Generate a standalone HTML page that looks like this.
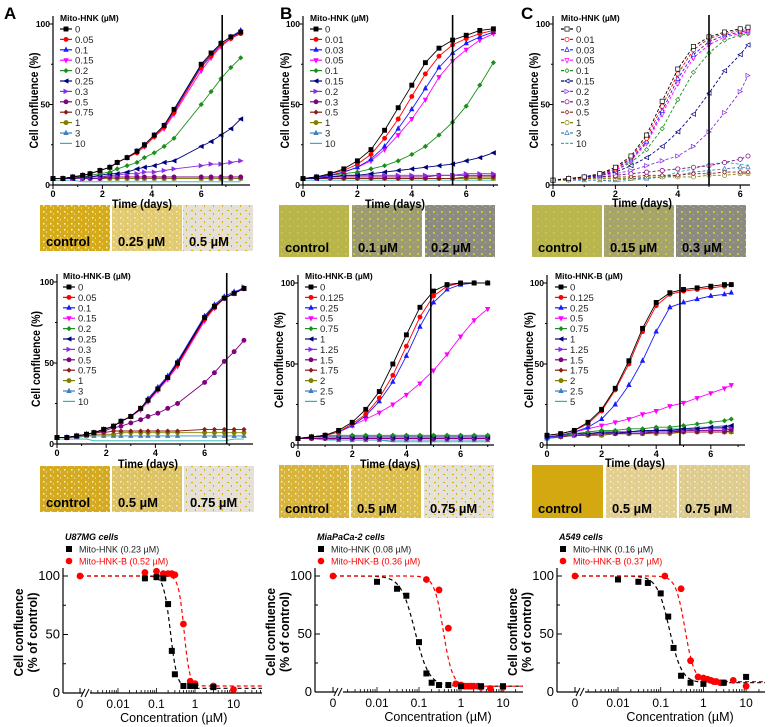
<!DOCTYPE html>
<html><head><meta charset="utf-8">
<style>
html,body{margin:0;padding:0;background:#fff;}
svg{display:block;font-family:"Liberation Sans",Arial,sans-serif;}
</style></head>
<body>
<svg id="fig" width="771" height="727" viewBox="0 0 771 727" xmlns="http://www.w3.org/2000/svg">
<defs>
<pattern id="spkW" width="7" height="6" patternUnits="userSpaceOnUse"><rect x="1" y="1" width="1.5" height="1.5" fill="#f4f0e0"/><rect x="4" y="3.5" width="1" height="1" fill="#f8f4ea"/></pattern>
<pattern id="spkG" width="9" height="8" patternUnits="userSpaceOnUse"><rect x="2" y="2" width="2" height="1" fill="#d9ad18"/><rect x="6" y="5" width="1" height="2" fill="#d9ad18"/></pattern>
<pattern id="spkY" width="8" height="7" patternUnits="userSpaceOnUse"><rect x="1" y="1" width="2" height="2" fill="#c8c640"/><rect x="5" y="4" width="1" height="1" fill="#c8c640"/></pattern>
</defs>
</svg>
<script>
// ---------- time-course data ----------
const timesA=[0,0.4,0.8,1.2,1.5,1.9,2.3,2.6,3,3.4,3.7,4.1,4.5,4.9,6,6.4,6.8,7.2,7.6];
const timesB=[0,0.5,1,1.5,2,2.5,3,3.5,4,4.5,5,5.5,6,6.5,7];
const timesCt=[0,0.5,1,1.5,2,2.5,3,3.5,4,4.5,5,5.5,6,6.25];
const timesCm=[0,0.5,1,1.5,2,2.5,3,3.5,4,4.5,5,5.5,6,6.5,6.75];

const labelsATop=['0','0.05','0.1','0.15','0.2','0.25','0.3','0.5','0.75','1','3','10'];
const valsATop=[
[4,4,5,6,7,9,11,14,17,21,25,31,37,47,75,82,88,92,95],
[4,4,5,6,7,9,11,14,17,20,24,30,36,45,73,80,87,91,94],
[4,4,5,6,7,9,11,14,17,21,25,31,37,46,74,81,88,92,96],
[4,4,5,6,7,9,11,14,17,20,24,30,35,44,71,79,86,91,95],
[4,4,5,5,6,7,8,10,12,14,17,20,24,29,50,58,66,73,79],
[4,4,4,5,5,6,7,7,8,10,11,12,14,15,24,27,31,35,41],
[4,4,4,4,5,5,6,6,7,7,8,8,9,10,12,13,13,14,15],
[4,4,4,4,4,4,5,5,5,5,5,5,5,5,5,5,5,5,5],
[4,4,4,4,5,5,5,5,5,5,5,5,5,5,5,5,5,5,5],
[4,4,4,4,4,4,4,4,4,4,4,4,4,4,4,4,4,4,4],
[4,4,4,4,4,4,4,4,4,4,4,4,4,4,4,4,4,4,4],
[3,3,3,2,2,2,2,2,2,2,2,2,2,2,2,2,2,2,2]];

const labelsAMid=['0','0.05','0.1','0.15','0.2','0.25','0.3','0.5','0.75','1','3','10'];
const valsAMid=[
[4,4,5,6,7,9,11,14,17,22,27,34,41,50,78,85,90,93,96],
[4,4,5,6,7,9,11,14,17,22,27,34,41,49,77,84,90,93,96],
[4,4,5,6,7,9,11,14,17,22,28,35,42,51,79,86,91,94,96],
[4,4,5,6,7,9,11,14,17,21,26,33,40,48,76,84,90,93,96],
[4,4,5,6,7,9,11,14,17,22,27,34,41,49,77,85,90,93,96],
[4,4,5,6,7,9,11,14,17,22,27,34,41,50,78,85,90,93,96],
[4,4,5,6,7,9,11,14,17,22,27,34,41,50,78,85,90,93,97],
[4,4,5,6,7,8,10,11,13,15,17,19,22,25,38,44,51,57,64],
[4,4,5,6,7,7,8,8,8,8,8,8,8,8,9,9,9,9,9],
[4,4,5,5,6,6,6,7,7,7,7,7,7,7,7,7,7,7,7],
[4,4,4,5,5,5,5,5,5,5,5,5,5,5,5,5,5,5,5],
[3,3,3,3,2,2,2,2,2,2,2,2,2,2,2,2,2,3,3]];

const labelsBTop=['0','0.01','0.03','0.05','0.1','0.15','0.2','0.3','0.5','1','3','10'];
const valsBTop=[
[4,5,7,10,15,22,34,48,62,76,85,90,93,96,97],
[4,5,7,9,13,19,29,41,55,69,80,87,91,94,96],
[4,5,6,8,11,16,24,35,47,60,73,82,88,92,95],
[4,5,6,8,11,15,22,31,41,53,67,77,84,90,94],
[4,5,6,7,8,10,12,15,19,24,31,39,49,62,76],
[4,4,5,6,6,7,8,9,10,11,12,13,15,17,20],
[4,5,5,6,6,6,6,6,6,6,6,6,7,7,7],
[4,4,5,5,5,5,5,5,5,5,6,6,6,6,6],
[4,4,4,4,4,4,4,4,4,4,4,4,5,5,5],
[4,4,4,4,4,4,4,4,4,4,4,4,4,4,4],
[4,4,4,4,4,4,4,4,4,4,4,4,4,4,4],
[3,3,3,3,3,3,3,3,3,3,3,3,3,3,3]];

const labelsBMid=['0','0.125','0.25','0.5','0.75','1','1.25','1.5','1.75','2','2.5','5'];
const valsBMid=[
[4,5,6,9,14,22,33,50,68,85,95,99,100,100,100],
[4,5,6,8,13,19,29,43,61,79,92,98,100,100,100],
[4,5,6,8,12,18,27,39,55,73,88,96,99,100,100],
[4,5,6,8,12,16,20,25,31,38,46,56,67,77,84],
[4,5,6,6,6,6,6,6,6,6,6,6,6,6,6],
[4,5,5,5,5,5,5,5,5,5,5,5,5,5,5],
[4,5,5,5,5,5,5,5,5,5,5,5,5,5,5],
[4,4,4,4,4,4,4,4,4,4,4,4,4,4,4],
[4,4,4,4,4,4,4,4,4,4,4,4,4,4,4],
[4,4,4,4,4,4,4,4,4,4,4,4,4,4,4],
[4,4,4,3,3,3,3,3,3,3,3,3,3,3,3],
[4,4,3,3,3,3,3,2,2,2,2,2,2,2,2]];

const labelsCTop=['0','0.01','0.03','0.05','0.1','0.15','0.2','0.3','0.5','1','3','10'];
const valsCTop=[
[3,4,5,7,11,18,31,52,72,86,92,95,97,98],
[3,4,5,7,10,17,29,49,69,84,91,94,96,97],
[3,4,5,6,10,16,27,46,66,81,89,93,95,96],
[3,4,5,6,9,15,26,44,63,79,87,92,94,95],
[3,4,5,6,9,14,22,35,53,70,82,90,93,94],
[3,4,5,6,8,12,17,24,33,44,57,71,81,87],
[3,4,5,6,7,9,12,15,18,24,33,45,58,68],
[3,4,5,5,6,7,8,9,10,11,12,14,16,18],
[3,4,4,5,5,5,6,6,6,7,7,8,8,8],
[3,3,4,4,4,4,5,5,5,5,6,6,7,7],
[3,3,3,3,3,4,4,5,6,8,9,10,11,11],
[3,3,3,3,2,3,4,5,8,10,13,14,13,12]];

const labelsCMid=['0','0.125','0.25','0.5','0.75','1','1.25','1.5','1.75','2','2.5','5'];
const valsCMid=[
[6,7,9,14,22,35,52,72,88,94,96,97,98,99,99],
[6,7,9,13,21,34,50,70,86,93,95,96,97,98,99],
[5,6,8,11,16,25,37,52,70,85,88,90,92,93,94],
[5,6,8,10,12,14,16,19,21,24,26,29,32,35,37],
[5,6,7,8,9,9,10,10,11,11,12,13,14,15,16],
[5,6,7,7,8,8,8,9,9,9,10,10,11,11,12],
[5,6,6,7,7,8,8,8,9,9,9,10,10,10,11],
[5,6,6,7,7,7,8,8,8,8,9,9,9,9,10],
[5,5,6,6,7,7,7,7,8,8,8,8,8,8,9],
[5,5,6,6,6,7,7,7,7,7,8,8,8,8,8],
[4,5,6,6,6,7,7,7,8,8,8,8,8,8,8],
[4,5,6,6,7,8,8,9,9,10,10,11,11,12,12]];

// ---------- dose-response data ----------
const concAK=[0.05,0.1,0.15,0.2,0.25,0.3,0.5,0.75,1,3];
const valsAK=[98,99,98,76,36,16,6,6,6,5];
const concAR=[0,0.05,0.1,0.15,0.2,0.25,0.3,0.5,0.75,1,3,10];
const valsAR=[100,103,104,102,102,102,101,59,10,8,6,3];
const fitAK=[100,4,0.23,5];
const fitAR=[100,6,0.52,6];

const concBK=[0.01,0.03,0.05,0.1,0.15,0.2,0.3,0.5,1,3,10];
const valsBK=[95,89,83,43,16,8,6,6,5,5,5];
const concBR=[0,0.15,0.3,0.5,0.75,1,1.25,1.5,1.75,2,2.5,3,5,10];
const valsBR=[100,97,88,55,7,6,5,5,5,5,5,4,3,4];
const fitBK=[100,5,0.08,2.6];
const fitBR=[100,5,0.38,4];

const concCK=[0.01,0.03,0.05,0.1,0.15,0.2,0.3,0.5,1,3,10];
const valsCK=[97,95,94,85,65,38,14,8,7,8,13];
const concCR=[0,0.125,0.3,0.5,0.75,1,1.25,1.5,1.75,2,2.5,3,5,10];
const valsCR=[100,100,89,27,13,12,11,10,9,9,8,8,10,5];
const fitCK=[100,8,0.16,3];
const fitCR=[100,9,0.37,4];

// ---------- helpers ----------
const NS='http://www.w3.org/2000/svg';
const svg=document.getElementById('fig');
function mk(tag,a,p){const e=document.createElementNS(NS,tag);for(const k in a)e.setAttribute(k,a[k]);(p||svg).appendChild(e);return e;}
function txt(s,a,p){const e=mk('text',a,p);e.textContent=s;return e;}
const COLORS=['#000000','#ff0000','#1a1aff','#ff00ff','#1a8f1a','#00007f','#8b2be2','#800080','#8b1a1a','#808000','#3f7fbf','#2fb2b2'];

function marker(g,shape,x,y,c,open){
  const f=open?'#fff':c, s=2.1;
  let e;
  if(shape===0) e=mk('rect',{x:x-s,y:y-s,width:2*s,height:2*s,fill:f,stroke:c,'stroke-width':0.7},g);
  else if(shape===1||shape===7||shape===9) e=mk('circle',{cx:x,cy:y,r:s,fill:f,stroke:c,'stroke-width':0.7},g);
  else if(shape===2||shape===10) e=mk('polygon',{points:`${x},${y-s-0.5} ${x-s},${y+s-0.5} ${x+s},${y+s-0.5}`,fill:f,stroke:c,'stroke-width':0.7},g);
  else if(shape===3) e=mk('polygon',{points:`${x},${y+s+0.5} ${x-s},${y-s+0.5} ${x+s},${y-s+0.5}`,fill:f,stroke:c,'stroke-width':0.7},g);
  else if(shape===4||shape===8) e=mk('polygon',{points:`${x},${y-s} ${x+s},${y} ${x},${y+s} ${x-s},${y}`,fill:f,stroke:c,'stroke-width':0.7},g);
  else if(shape===5) e=mk('polygon',{points:`${x-s},${y} ${x+s},${y-s} ${x+s},${y+s}`,fill:f,stroke:c,'stroke-width':0.7},g);
  else if(shape===6) e=mk('polygon',{points:`${x+s},${y} ${x-s},${y-s} ${x-s},${y+s}`,fill:f,stroke:c,'stroke-width':0.7},g);
  else return null;
  
  
  return e;
}

function timecourse(name,cfg,times,labels,vals){
  const g=mk('g',{});
  
  
  const xs=t=>cfg.x0+t*cfg.ppd;
  const ys=v=>cfg.y0-v/100*(cfg.y0-cfg.y100);
  for(let i=vals.length-1;i>=0;i--){
    const v=vals[i];
    let d='';
    v.forEach((y,j)=>{d+=(j?'L':'M')+xs(times[j]).toFixed(1)+','+ys(y).toFixed(1);});
    const p=mk('path',{d:d,fill:'none',stroke:COLORS[i],'stroke-width':0.9,'stroke-dasharray':cfg.dashed?'3,2':'none'},g);
    
    
    if(i<11) v.forEach((y,j)=>marker(g,i,xs(times[j]),ys(y),COLORS[i],cfg.open));
  }
  const ya=mk('line',{x1:cfg.x0,y1:cfg.y100-8,x2:cfg.x0,y2:cfg.y0,stroke:'#000','stroke-width':1.2},g);
  
  
  const xa=mk('line',{x1:cfg.x0,y1:cfg.y0,x2:cfg.xend,y2:cfg.y0,stroke:'#000','stroke-width':1.2},g);
  
  
  [0,25,50,75,100].forEach(v=>{
    const major=v%50===0;
    mk('line',{x1:cfg.x0,y1:ys(v),x2:cfg.x0-(major?4:2),y2:ys(v),stroke:'#000'},g);
    if(major){const t=txt(String(v),{x:cfg.x0-3,y:ys(v)+3,'text-anchor':'end','font-size':8.5,'font-weight':'bold'},g);
      
      }
  });
  for(let d=0;xs(d)<=cfg.xend+0.5;d++){
    const major=d%2===0;
    mk('line',{x1:xs(d),y1:cfg.y0,x2:xs(d),y2:cfg.y0+(major?4:2),stroke:'#000'},g);
    if(major){const t=txt(String(d),{x:xs(d),y:cfg.y0+12,'text-anchor':'middle','font-size':9,'font-weight':'bold'},g);
      
      }
  }
  const vl=mk('line',{x1:xs(cfg.vline),y1:cfg.y100-9,x2:xs(cfg.vline),y2:cfg.y0,stroke:'#000','stroke-width':1.6},g);
  
  
  const yl=txt('Cell confluence (%)',{x:0,y:0,transform:`translate(${cfg.ylx},${(cfg.y0+cfg.y100)/2-4}) rotate(-90)`,'text-anchor':'middle','font-size':11.5,'font-weight':'bold',textLength:96,lengthAdjust:'spacingAndGlyphs'},g);
  
  
  const lg=mk('g',{},g);
  
  
  const lt=txt(cfg.ltitle,{x:cfg.lx,y:cfg.ly-8,'font-size':8.5,'font-weight':'bold'},lg);
  
  
  labels.forEach((l,i)=>{
    const y=cfg.ly+i*10.4;
    const ent=mk('g',{},lg);
    
    
    mk('line',{x1:cfg.lx,y1:y,x2:cfg.lx+12,y2:y,stroke:COLORS[i],'stroke-width':1.2,'stroke-dasharray':cfg.dashed?'3,1.5':'none'},ent);
    if(i<11) marker(ent,i,cfg.lx+6,y,COLORS[i],cfg.open);
    txt(l,{x:cfg.lx+15,y:y+3.5,'font-size':9.5,fill:'#222'},ent);
  });
}

function images(name,xsArr,y,h,w,fills,pats,labels){
  xsArr.forEach((x,i)=>{
    const g=mk('g',{});
    
    
    mk('rect',{x:x,y:y,width:w,height:h,fill:fills[i]},g);
    if(pats[i]) mk('rect',{x:x,y:y,width:w,height:h,fill:'url(#'+pats[i]+')'},g);
    txt(labels[i],{x:x+6,y:y+h-5,'font-size':13,'font-weight':'bold',fill:'#000'},g);
  });
}
function timeLabel(x,y){
  const t=txt('Time (days)',{x:x,y:y,'text-anchor':'middle','font-size':12,'font-weight':'bold',textLength:60,lengthAdjust:'spacingAndGlyphs'});
  
  
}

images('micrograph-a-top',[40,112,183],205,46,70,['#d6ab1a','#e2ca70','#e4e0d4'],['spkW','spkW','spkG'],['control','0.25 µM','0.5 µM']);
images('micrograph-b-top',[279,352,425],205,52,70,['#b7b54c','#9c9b72','#8c8b82'],['spkY','spkY','spkY'],['control','0.1 µM','0.2 µM']);
images('micrograph-c-top',[532,604,676],205,52,70,['#b9b650','#a6a46a','#8c8b80'],['spkY','spkY','spkY'],['control','0.15 µM','0.3 µM']);
images('micrograph-a-mid',[40,112,184],466,46,70,['#d4aa20','#ddc364','#e5e1d6'],['spkW','spkW','spkG'],['control','0.5 µM','0.75 µM']);
images('micrograph-b-mid',[279,351,424],465,53,70,['#d8b43a','#dbbd4e','#e4e1d6'],['spkW','spkW','spkG'],['control','0.5 µM','0.75 µM']);
images('micrograph-c-mid',[532,606,679],465,53,71,['#d4a810','#e2cf90','#decb8e'],[null,'spkW','spkW'],['control','0.5 µM','0.75 µM']);

timecourse('panel-a-top',{x0:53,ppd:24.7,xend:250,y0:185,y100:24,vline:6.85,ylx:38,lx:60,ly:29,ltitle:'Mito-HNK (µM)'},timesA,labelsATop,valsATop);
timecourse('panel-a-mid',{x0:57,ppd:24.6,xend:253,y0:444,y100:282,vline:6.9,ylx:40,lx:63,ly:287,ltitle:'Mito-HNK-B (µM)'},timesA,labelsAMid,valsAMid);
timecourse('panel-b-top',{x0:303,ppd:27.2,xend:498,y0:185,y100:24,vline:5.5,ylx:289,lx:310,ly:29,ltitle:'Mito-HNK (µM)'},timesB,labelsBTop,valsBTop);
timecourse('panel-b-mid',{x0:298,ppd:27.1,xend:494,y0:445,y100:283,vline:4.9,ylx:283,lx:305,ly:287,ltitle:'Mito-HNK-B (µM)'},timesB,labelsBMid,valsBMid);
timecourse('panel-c-top',{x0:553,ppd:31.2,xend:750,y0:185,y100:24,vline:5.0,ylx:538,lx:561,ly:29,ltitle:'Mito-HNK (µM)',dashed:true,open:true},timesCt,labelsCTop,valsCTop);
timecourse('panel-c-mid',{x0:547,ppd:27.3,xend:745,y0:445,y100:283,vline:4.87,ylx:533,lx:555,ly:287,ltitle:'Mito-HNK-B (µM)'},timesCm,labelsCMid,valsCMid);
timeLabel(142,208);timeLabel(395,208);timeLabel(642,207);
timeLabel(148,468);timeLabel(390,468);timeLabel(635,467);

[['A',4,19],['B',280,19],['C',521,19]].forEach(a=>{
  const t=txt(a[0],{x:a[1],y:a[2],'font-size':17,'font-weight':'bold'});
  
  
});

function dose(name,cfg,cK,vK,cR,vR,fK,fR){
  const g=mk('g',{});
  
  
  const xs=c=>c===0?cfg.zero:cfg.dec01+(Math.log10(c)+2)*cfg.ppdec;
  const ys=v=>cfg.y0-v/100*(cfg.y0-cfg.y100);
  const xstart=cfg.zero+10;
  const ya=mk('line',{x1:cfg.ax,y1:cfg.y100-8,x2:cfg.ax,y2:cfg.y0,stroke:'#000','stroke-width':1.2},g);
  
  
  const xa=mk('path',{d:`M${cfg.ax},${cfg.y0}H${cfg.zero+3}M${xstart},${cfg.y0}H${cfg.xend}`,stroke:'#000','stroke-width':1.2,fill:'none'},g);
  
  
  const br=mk('path',{d:`M${cfg.zero+1},${cfg.y0+4}L${cfg.zero+5},${cfg.y0-4}M${cfg.zero+5},${cfg.y0+4}L${cfg.zero+9},${cfg.y0-4}`,stroke:'#000','stroke-width':1,fill:'none'},g);
  
  
  mk('line',{x1:cfg.zero,y1:cfg.y0,x2:cfg.zero,y2:cfg.y0-5,stroke:'#000'},g);
  const z=txt('0',{x:cfg.zero,y:cfg.y0+15,'text-anchor':'middle','font-size':12},g);
  
  
  for(let d=-3;d<=2;d++){for(let m=1;m<=9;m++){
    const c=m*Math.pow(10,d),x=xs(c);
    if(x<xstart||x>cfg.xend)continue;
    mk('line',{x1:x,y1:cfg.y0,x2:x,y2:cfg.y0-(m===1?5:3),stroke:'#000','stroke-width':0.8},g);
    if(m===1&&d>=-2&&d<=1){const t=txt(String(c),{x:x,y:cfg.y0+15,'text-anchor':'middle','font-size':12},g);
      
      }
  }}
  [0,25,50,75,100].forEach(v=>{
    const major=v%50===0;
    mk('line',{x1:cfg.ax,y1:ys(v),x2:cfg.ax+(major?5:3),y2:ys(v),stroke:'#000'},g);
    if(major){const t=txt(String(v),{x:cfg.ax-3,y:ys(v)+4,'text-anchor':'end','font-size':13},g);
      
      }
  });
  const l1=txt('Cell confluence',{x:0,y:0,transform:`translate(${cfg.ax-40},${(cfg.y0+cfg.y100)/2-2}) rotate(-90)`,'text-anchor':'middle','font-size':13,'font-weight':'bold',textLength:88,lengthAdjust:'spacingAndGlyphs'},g);
  
  
  const l2=txt('(% of control)',{x:0,y:0,transform:`translate(${cfg.ax-26},${(cfg.y0+cfg.y100)/2-2}) rotate(-90)`,'text-anchor':'middle','font-size':13,'font-weight':'bold',textLength:80,lengthAdjust:'spacingAndGlyphs'},g);
  
  
  const xt=txt('Concentration (µM)',{x:cfg.dec01+1.5*cfg.ppdec-2,y:cfg.y0+29,'text-anchor':'middle','font-size':12.5},g);
  
  
  [[fK,'#000'],[fR,'#ff0000']].forEach(([f,col],k)=>{
    const hill=c=>f[1]+(f[0]-f[1])/(1+Math.pow(c/f[2],f[3]));
    let d=`M${cfg.zero},${ys(f[0])}H${xstart}`;
    const lo=(xstart-cfg.dec01)/cfg.ppdec-2, hi=(cfg.xend-cfg.dec01)/cfg.ppdec-2;
    for(let i=0;i<=120;i++){const lc=lo+(hi-lo)*i/120,c=Math.pow(10,lc);d+=`L${xs(c).toFixed(1)},${ys(hill(c)).toFixed(1)}`;}
    const p=mk('path',{d:d,fill:'none',stroke:col,'stroke-width':1.2,'stroke-dasharray':'4,3'},g);
    
    
  });
  cR.forEach((c,i)=>{const e=mk('circle',{cx:xs(c),cy:ys(vR[i]),r:3.4,fill:'#ff0000'},g);
    
    });
  cK.forEach((c,i)=>{const e=mk('rect',{x:xs(c)-3,y:ys(vK[i])-3,width:6,height:6,fill:'#000'},g);
    
    });
  const lg=mk('g',{},g);
  
  
  txt(cfg.title,{x:cfg.ax+2,y:540,'font-size':9,'font-weight':'bold','font-style':'italic'},lg);
  mk('rect',{x:cfg.ax+3,y:546,width:6,height:6,fill:'#000'},lg);
  txt('Mito-HNK ('+cfg.ick+' µM)',{x:cfg.ax+16,y:552.5,'font-size':9,fill:'#222'},lg);
  mk('circle',{cx:cfg.ax+6,cy:561,r:3.3,fill:'#ff0000'},lg);
  txt('Mito-HNK-B ('+cfg.icr+' µM)',{x:cfg.ax+16,y:564.5,'font-size':9,fill:'#ff0000'},lg);
}
dose('panel-a-dose',{ax:63,zero:80,dec01:118,ppdec:38.5,xend:262,y0:693,y100:576,title:'U87MG cells',ick:'0.23',icr:'0.52'},concAK,valsAK,concAR,valsAR,fitAK,fitAR);
dose('panel-b-dose',{ax:315,zero:333,dec01:377,ppdec:42,xend:523,y0:692,y100:576,title:'MiaPaCa-2 cells',ick:'0.08',icr:'0.36'},concBK,valsBK,concBR,valsBR,fitBK,fitBR);
dose('panel-c-dose',{ax:557,zero:575,dec01:618,ppdec:42.7,xend:765,y0:692,y100:576,title:'A549 cells',ick:'0.16',icr:'0.37'},concCK,valsCK,concCR,valsCR,fitCK,fitCR);
</script>
</body></html>
